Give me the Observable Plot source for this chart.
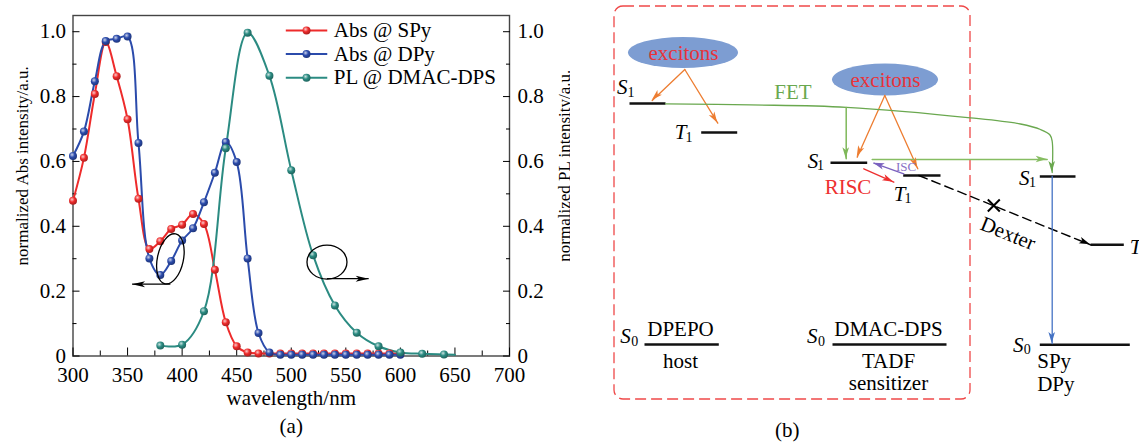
<!DOCTYPE html>
<html><head><meta charset="utf-8">
<script src="https://cdn.jsdelivr.net/npm/d3@7"></script>
<script src="https://cdn.jsdelivr.net/npm/@observablehq/plot@0.6"></script>
<style>
html,body{margin:0;padding:0;background:#fff;}
#fig{display:flex;width:1139px;height:442px;overflow:hidden;}
#fig svg{flex:none;}
</style></head><body><div id="fig"></div>
<script>
// ================= Panel (a) data =================
const series = ["Abs @ SPy", "Abs @ DPy", "PL @ DMAC-DPS"];
const colors = ["#ee2b2b", "#2b4bab", "#2b8b82"];
const wlAbs = [300,310,320,330,340,350,360,370,380,390,400,410,420,430,440,450,460,470,480,490,500,510,520,530,540,550,560,570,580,590,600];
const absSPy = [0.479,0.611,0.808,0.968,0.863,0.730,0.485,0.330,0.354,0.392,0.405,0.438,0.407,0.266,0.104,0.030,0.011,0.008,0.008,0.008,0.008,0.008,0.008,0.008,0.008,0.008,0.008,0.008,0.008,0.008,0.008];
const absDPy = [0.617,0.692,0.847,0.971,0.978,0.985,0.657,0.301,0.250,0.293,0.356,0.394,0.474,0.565,0.660,0.598,0.301,0.071,0.011,0.004,0.004,0.004,0.004,0.004,0.004,0.004,0.004,0.004,0.004,0.004,0.004];
const wlPL = [380,400,420,440,460,480,500,520,540,560,580,600,620,640,650];
const plDMAC = [0.032,0.035,0.138,0.641,0.997,0.864,0.573,0.311,0.156,0.072,0.030,0.011,0.007,0.005,0.004];
const xTicks = [300,350,400,450,500,550,600,650,700];
const xMinor = [325,375,425,475,525,575,625,675];
const yTicks = [0,0.2,0.4,0.6,0.8,1.0];
const yMinor = [0.1,0.3,0.5,0.7,0.9];
// callouts (ellipse centre in data units, arrow level and tip in data units)
const callouts = [
  {cx: 389.7, cy: 0.298, ay: 0.22, tip: 354.6},
  {cx: 533.2, cy: 0.288, ay: 0.237, tip: 571.4}
];
const calloutSize = [{rx: 13, ry: 25.5, tilt: 12}, {rx: 20, ry: 17, tilt: 0}];

const rowsOf = (xs, ys, s) => xs.map((x, i) => ({x, y: ys[i], s}));
const seriesData = [rowsOf(wlAbs, absSPy, series[0]), rowsOf(wlAbs, absDPy, series[1]), rowsOf(wlPL, plDMAC, series[2])];
const FONT = "'Liberation Serif','Times New Roman',serif";
const fmtY = d => d === 0 ? "0" : d.toFixed(1);

function head(g, x1, y1, x2, y2, color, len = 11, half = 3.2) {
  const a = Math.atan2(y2 - y1, x2 - x1);
  const bx = x2 - len * Math.cos(a), by = y2 - len * Math.sin(a);
  const px = -Math.sin(a) * half, py = Math.cos(a) * half;
  g.append("path").attr("d", `M${x2},${y2}L${bx + px},${by + py}L${bx + 0.25*len*Math.cos(a)},${by + 0.25*len*Math.sin(a)}L${bx - px},${by - py}Z`)
    .attr("fill", color).attr("stroke", "none");
}

function ballDefs() {
  const defs = d3.create("svg:defs");
  colors.forEach((c, i) => {
    const g = defs.append("radialGradient").attr("id", "ball" + i).attr("cx", "38%").attr("cy", "35%").attr("r", "65%");
    g.append("stop").attr("offset", "0%").attr("stop-color", d3.interpolateRgb(c, "#fff")(0.75));
    g.append("stop").attr("offset", "50%").attr("stop-color", c);
    g.append("stop").attr("offset", "100%").attr("stop-color", d3.color(c).darker(0.9).formatHex());
  });
  return defs.node();
}

function calloutMark(index, scales) {
  const {x, y} = scales;
  const g = d3.create("svg:g").attr("fill", "none").attr("stroke", "#000").attr("stroke-width", 1.3);
  callouts.forEach((c, i) => {
    const s = calloutSize[i];
    const cx = x(c.cx), cy = y(c.cy);
    g.append("ellipse").attr("cx", cx).attr("cy", cy).attr("rx", s.rx).attr("ry", s.ry)
      .attr("transform", `rotate(${s.tilt},${cx},${cy})`);
    const x1 = x(c.cx), yy = y(c.ay), x2 = x(c.tip);
    g.append("line").attr("x1", x1).attr("y1", yy).attr("x2", x2).attr("y2", yy);
    head(g, x1, yy, x2, yy, "#000", 13, 3);
  });
  return g.node();
}

const legendY0 = 1.004, legendStep = 0.073;
const legendMarks = series.flatMap((name, i) => {
  const row = [{name, y: legendY0 - i * legendStep}];
  return [
    Plot.link(row, {x1: () => 495, x2: () => 533, y1: "y", y2: "y", stroke: colors[i], strokeWidth: 2}),
    Plot.dot(row, {x: () => 514, y: "y", r: 4, fill: `url(#ball${i})`}),
    Plot.text(row, {x: () => 539, y: "y", text: "name", textAnchor: "start", fontSize: 21, fill: "#000"})
  ];
});

const plotA = Plot.plot({
  width: 570, height: 442,
  marginLeft: 72.5, marginRight: 61, marginTop: 15, marginBottom: 86.5,
  x: {domain: [300, 700], label: null},
  y: {domain: [0, 1.05], label: null},
  style: {fontFamily: FONT, fontSize: "21px", background: "#fff", color: "#000", overflow: "visible"},
  marks: [
    ballDefs,
    Plot.frame({stroke: "#444", strokeWidth: 1.4}),
    Plot.axisX(xTicks, {anchor: "bottom", tickSize: -8, tickPadding: 19, tickFormat: d => d, label: null, fontSize: 21}),
    Plot.axisX(xMinor, {anchor: "bottom", tickSize: -5, tickFormat: () => "", label: null}),
    Plot.axisY(yTicks, {anchor: "left", tickSize: -7, tickPadding: 14, tickFormat: fmtY, label: null, fontSize: 21}),
    Plot.axisY(yMinor, {anchor: "left", tickSize: -4, tickFormat: () => "", label: null}),
    Plot.axisY(yTicks, {anchor: "right", tickSize: -7, tickPadding: 15, tickFormat: fmtY, label: null, fontSize: 21}),
    Plot.axisY(yMinor, {anchor: "right", tickSize: -4, tickFormat: () => "", label: null}),
    ...seriesData.map((d, i) => Plot.line(d, {x: "x", y: "y", stroke: colors[i], strokeWidth: 2, curve: "catmull-rom"})),
    ...seriesData.map((d, i) => Plot.dot(i === 2 ? d.filter(p => p.x % 20 === 0) : d, {x: "x", y: "y", r: 4, fill: `url(#ball${i})`})),
    calloutMark,
    ...legendMarks,
    Plot.text(["normalized Abs intensity/a.u."], {frameAnchor: "left", textAnchor: "middle", rotate: -90, dx: -50, dy: -20, fontSize: 17}),
    Plot.text(["normalized PL intensity/a.u."], {frameAnchor: "right", textAnchor: "middle", rotate: -90, dx: 55, dy: -20, fontSize: 17}),
    Plot.text(["wavelength/nm"], {frameAnchor: "bottom", dy: 49, fontSize: 21}),
    Plot.text(["(a)"], {frameAnchor: "bottom", dy: 77, fontSize: 21})
  ]
});

// ================= Panel (b) diagram data (diagram units: x right, y down) =================
const box = [{x1: 44, x2: 400, y1: 6, y2: 399}];
const excitons = [{x: 113, y: 52.5, rx: 55, ry: 15.5}, {x: 315, y: 79.5, rx: 53, ry: 16}];
const levels = [
  {x1: 59, x2: 95, y: 103},      // host S1
  {x1: 130.7, x2: 166.7, y: 132},// host T1
  {x1: 260, x2: 296.7, y: 162.3},// TADF S1
  {x1: 332.7, x2: 370, y: 175},  // TADF T1
  {x1: 469.3, x2: 505, y: 176},  // dopant S1
  {x1: 520, x2: 553.3, y: 244.3},// dopant T1
  {x1: 74, x2: 148.3, y: 344},   // host S0
  {x1: 262, x2: 376, y: 344},    // TADF S0
  {x1: 469.3, x2: 559.3, y: 344.3} // dopant S0
];
const stateLetters = [
  {t: "S", x: 51.7, y: 86.3}, {t: "T", x: 110, y: 131.3}, {t: "S", x: 242.5, y: 160.5},
  {t: "T", x: 329, y: 193.3}, {t: "S", x: 453.7, y: 177.5}, {t: "T", x: 565, y: 246.7},
  {t: "S", x: 55, y: 335.8}, {t: "S", x: 241.7, y: 335.8}, {t: "S", x: 447.7, y: 345}
];
const stateSubs = [
  {t: "1", x: 60.5, y: 92}, {t: "1", x: 118.5, y: 137}, {t: "1", x: 250, y: 164.7},
  {t: "1", x: 337.5, y: 198.3}, {t: "1", x: 462, y: 182.5}, {t: "1", x: 574, y: 252},
  {t: "0", x: 64.2, y: 341}, {t: "0", x: 251, y: 341}, {t: "0", x: 456.7, y: 349}
];
const centerLabels = [
  {t: "DPEPO", x: 110, y: 328.5}, {t: "host", x: 110, y: 361},
  {t: "DMAC-DPS", x: 318, y: 328.5}, {t: "TADF", x: 318, y: 361}, {t: "sensitizer", x: 318, y: 383}
];
const leftLabels = [{t: "SPy", x: 466.7, y: 360.7}, {t: "DPy", x: 466.7, y: 383.3}];
const processLabels = [
  {t: "FET", x: 222.5, y: 92, c: "#6aa84f", s: 21, r: 0},
  {t: "RISC", x: 277.5, y: 186.7, c: "#ee3030", s: 21, r: 0},
  {t: "ISC", x: 335.5, y: 166, c: "#8a72c6", s: 13, r: 0},
  {t: "Dexter", x: 437.5, y: 233, c: "#000", s: 21, r: 22}
];
const arrows = [
  {pts: [[114.3, 69], [81.7, 100]], c: "#ed7d31", w: 1.3},
  {pts: [[114.3, 69], [147.3, 122.7]], c: "#ed7d31", w: 1.3},
  {pts: [[314.3, 95], [286.7, 156.7]], c: "#ed7d31", w: 1.3},
  {pts: [[314.3, 95], [347.3, 168.3]], c: "#ed7d31", w: 1.3},
  {pts: [[95, 103.3], [180, 104.4], [276, 106.8], [400, 117.3], [450, 123.5], [470, 129], [479.5, 134.5], [481.7, 141], [481.7, 172]], c: "#6aa84f", w: 1.3, curve: "catmull-rom"},
  {pts: [[275.7, 107], [275.7, 158.3]], c: "#7fb85a", w: 1.5},
  {pts: [[301.7, 159], [476.7, 159]], c: "#86bd62", w: 1.5},
  {pts: [[333.3, 173.3], [303.3, 162.7]], c: "#7a62bf", w: 1.3},
  {pts: [[293.3, 168.3], [323.3, 181.7]], c: "#ee3030", w: 1.3},
  {pts: [[348.3, 175], [520, 244.3]], c: "#000", w: 1.4, dash: "9,5"},
  {pts: [[481.7, 176], [481.7, 343]], c: "#4472c4", w: 1.3}
];
const blocked = [{x: 423.3, y: 205}];

function excitonMark(index, {x, y}) {
  const g = d3.create("svg:g");
  excitons.forEach(e => g.append("ellipse").attr("cx", x(e.x)).attr("cy", y(e.y)).attr("rx", e.rx).attr("ry", e.ry).attr("fill", "#7d9dd2"));
  return g.node();
}
function headMark(index, {x, y}) {
  const g = d3.create("svg:g");
  arrows.forEach(a => {
    const n = a.pts.length, p = a.pts[n - 2], q = a.pts[n - 1];
    head(g, x(p[0]), y(p[1]), x(q[0]), y(q[1]), a.c, 11, 3.3);
  });
  return g.node();
}

const plotB = Plot.plot({
  width: 569, height: 442, margin: 0,
  x: {domain: [0, 569], range: [0, 569]},
  y: {domain: [0, 442], range: [0, 442]},
  axis: null,
  style: {fontFamily: FONT, fontSize: "21px", background: "#fff", color: "#000"},
  marks: [
    Plot.rect(box, {x1: "x1", x2: "x2", y1: "y1", y2: "y2", rx: 9, fill: "none", stroke: "#ef4848", strokeWidth: 1.3, strokeDasharray: "11,5"}),
    excitonMark,
    Plot.text(excitons, {x: "x", y: "y", text: () => "excitons", fill: "#e8333a", fontSize: 21}),
    Plot.link(levels, {x1: "x1", x2: "x2", y1: "y", y2: "y", stroke: "#111", strokeWidth: 2.6}),
    ...arrows.map(a => Plot.line(a.pts, {x: p => p[0], y: p => p[1], stroke: a.c, strokeWidth: a.w, strokeDasharray: a.dash, curve: a.curve || "linear"})),
    headMark,
    Plot.dot(blocked, {x: "x", y: "y", symbol: "times", r: 5.5, stroke: "#000", strokeWidth: 2}),
    Plot.text(stateLetters, {x: "x", y: "y", text: "t", fontStyle: "italic", fontSize: 21}),
    Plot.text(stateSubs, {x: "x", y: "y", text: "t", fontSize: 14}),
    Plot.text(centerLabels, {x: "x", y: "y", text: "t", fontSize: 21}),
    Plot.text(leftLabels, {x: "x", y: "y", text: "t", textAnchor: "start", fontSize: 21}),
    ...processLabels.map(l => Plot.text([l], {x: "x", y: "y", text: "t", fill: l.c, fontSize: l.s, rotate: l.r})),
    Plot.text(["(b)"], {x: () => 216.7, y: () => 430, fontSize: 21})
  ]
});

document.getElementById("fig").append(plotA, plotB);
</script></body></html>
